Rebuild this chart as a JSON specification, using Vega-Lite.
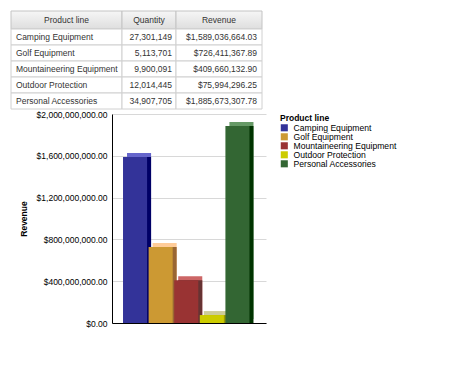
{
  "$schema": "https://vega.github.io/schema/vega-lite/v6.json",
  "background": "white",
  "padding": {"left": 10, "top": 10, "right": 5, "bottom": 5},
  "config": {"view": {"stroke": null}, "font": "Liberation Sans"},
  "datasets": {
    "sales": [
      {"product_line": "Camping Equipment", "quantity": 27301149, "revenue": 1589036664.03},
      {"product_line": "Golf Equipment", "quantity": 5113701, "revenue": 726411367.89},
      {"product_line": "Mountaineering Equipment", "quantity": 9900091, "revenue": 409660132.90},
      {"product_line": "Outdoor Protection", "quantity": 12014445, "revenue": 75994296.25},
      {"product_line": "Personal Accessories", "quantity": 34907705, "revenue": 1885673307.78}
    ]
  },
  "spacing": 0,
  "vconcat": [
    {
      "columns": 3,
      "spacing": 0,
      "bounds": "flush",
      "concat": [
        {
          "width": 111, "height": 18,
          "data": {"values": [{"header": "Product line"}]},
          "encoding": {
            "x": {"field": "header", "type": "nominal", "scale": {"paddingInner": 0, "paddingOuter": 0}, "axis": null},
            "y": {"field": "header", "type": "nominal", "scale": {"paddingInner": 0, "paddingOuter": 0}, "axis": null}
          },
          "layer": [
            {"mark": {"type": "rect", "stroke": "#c4c4c4", "strokeWidth": 1, "fill": {"gradient": "linear", "x1": 0, "y1": 0, "x2": 0, "y2": 1, "stops": [{"offset": 0, "color": "#f6f6f6"}, {"offset": 1, "color": "#dedede"}]}}},
            {"mark": {"type": "text", "fontSize": 8.5, "color": "#333333"}, "encoding": {"text": {"field": "header"}}}
          ]
        },
        {
          "width": 54, "height": 18,
          "data": {"values": [{"header": "Quantity"}]},
          "encoding": {
            "x": {"field": "header", "type": "nominal", "scale": {"paddingInner": 0, "paddingOuter": 0}, "axis": null},
            "y": {"field": "header", "type": "nominal", "scale": {"paddingInner": 0, "paddingOuter": 0}, "axis": null}
          },
          "layer": [
            {"mark": {"type": "rect", "stroke": "#c4c4c4", "strokeWidth": 1, "fill": {"gradient": "linear", "x1": 0, "y1": 0, "x2": 0, "y2": 1, "stops": [{"offset": 0, "color": "#f6f6f6"}, {"offset": 1, "color": "#dedede"}]}}},
            {"mark": {"type": "text", "fontSize": 8.5, "color": "#333333"}, "encoding": {"text": {"field": "header"}}}
          ]
        },
        {
          "width": 86, "height": 18,
          "data": {"values": [{"header": "Revenue"}]},
          "encoding": {
            "x": {"field": "header", "type": "nominal", "scale": {"paddingInner": 0, "paddingOuter": 0}, "axis": null},
            "y": {"field": "header", "type": "nominal", "scale": {"paddingInner": 0, "paddingOuter": 0}, "axis": null}
          },
          "layer": [
            {"mark": {"type": "rect", "stroke": "#c4c4c4", "strokeWidth": 1, "fill": {"gradient": "linear", "x1": 0, "y1": 0, "x2": 0, "y2": 1, "stops": [{"offset": 0, "color": "#f6f6f6"}, {"offset": 1, "color": "#dedede"}]}}},
            {"mark": {"type": "text", "fontSize": 8.5, "color": "#333333"}, "encoding": {"text": {"field": "header"}}}
          ]
        },
        {
          "width": 111, "height": 80,
          "data": {"name": "sales"},
          "encoding": {
            "x": {"datum": "Product line", "type": "nominal", "scale": {"paddingInner": 0, "paddingOuter": 0}, "axis": null},
            "y": {"field": "product_line", "type": "nominal", "sort": null, "scale": {"paddingInner": 0, "paddingOuter": 0}, "axis": null}
          },
          "layer": [
            {"mark": {"type": "rect", "fill": "white", "stroke": "#d0d0d0", "strokeWidth": 1}},
            {"mark": {"type": "text", "align": "left", "dx": 5, "fontSize": 8.5, "color": "#333333"}, "encoding": {"x": {"datum": "Product line", "type": "nominal", "bandPosition": 0}, "text": {"field": "product_line"}}}
          ]
        },
        {
          "width": 54, "height": 80,
          "data": {"name": "sales"},
          "encoding": {
            "x": {"datum": "Quantity", "type": "nominal", "scale": {"paddingInner": 0, "paddingOuter": 0}, "axis": null},
            "y": {"field": "product_line", "type": "nominal", "sort": null, "scale": {"paddingInner": 0, "paddingOuter": 0}, "axis": null}
          },
          "layer": [
            {"mark": {"type": "rect", "fill": "white", "stroke": "#d0d0d0", "strokeWidth": 1}},
            {"mark": {"type": "text", "align": "right", "dx": -4, "fontSize": 8.5, "color": "#333333"}, "encoding": {"x": {"datum": "Quantity", "type": "nominal", "bandPosition": 1}, "text": {"field": "quantity", "type": "quantitative", "format": ","}}}
          ]
        },
        {
          "width": 86, "height": 80,
          "data": {"name": "sales"},
          "encoding": {
            "x": {"datum": "Revenue", "type": "nominal", "scale": {"paddingInner": 0, "paddingOuter": 0}, "axis": null},
            "y": {"field": "product_line", "type": "nominal", "sort": null, "scale": {"paddingInner": 0, "paddingOuter": 0}, "axis": null}
          },
          "layer": [
            {"mark": {"type": "rect", "fill": "white", "stroke": "#d0d0d0", "strokeWidth": 1}},
            {"mark": {"type": "text", "align": "right", "dx": -5, "fontSize": 8.5, "color": "#333333"}, "encoding": {"x": {"datum": "Revenue", "type": "nominal", "bandPosition": 1}, "text": {"field": "revenue", "type": "quantitative", "format": "$,.2f"}}}
          ]
        }
      ]
    },
    {
      "spacing": 0,
      "hconcat": [
        {
          "width": 8, "height": 1,
          "data": {"values": []},
          "mark": "point"
        },
        {
          "width": 154,
          "height": 209,
          "data": {"name": "sales"},
          "encoding": {
            "x": {"field": "product_line", "type": "nominal", "sort": null, "scale": {"paddingInner": 0.06, "paddingOuter": 0.538, "align": 0.4}, "axis": {"title": null, "labels": false, "ticks": false, "domainColor": "#000000", "grid": false}},
            "y": {"field": "revenue", "type": "quantitative", "scale": {"domain": [0, 2000000000]}, "axis": {"title": "Revenue", "titleFontSize": 8.5, "titleFontWeight": "bold", "titleColor": "#000000", "titlePadding": 8, "format": "$,.2f", "values": [0, 400000000, 800000000, 1200000000, 1600000000, 2000000000], "labelFontSize": 8.5, "labelColor": "#000000", "labelPadding": 5, "ticks": false, "domainColor": "#000000", "grid": true, "gridColor": "#d8d8d8"}}
          },
          "layer": [
            {"mark": {"type": "bar", "xOffset": 4, "yOffset": -4}, "encoding": {"color": {"field": "product_line", "type": "nominal", "scale": {"range": ["#6666cc", "#ffcc99", "#cc6666", "#cccc99", "#669966"]}, "legend": null}}},
            {"mark": {"type": "bar", "xOffset": 4}, "encoding": {"color": {"field": "product_line", "type": "nominal", "scale": {"range": ["#000066", "#996633", "#663333", "#999900", "#003300"]}, "legend": null}}},
            {"mark": {"type": "bar"}, "encoding": {"color": {"field": "product_line", "type": "nominal", "scale": {"range": ["#333399", "#cc9933", "#993333", "#cccc00", "#336633"]}, "legend": {"title": "Product line", "titleFontSize": 8.5, "titleFontWeight": "bold", "titleColor": "#000000", "titleBaseline": "top", "labelFontSize": 8.6, "labelColor": "#000000", "symbolType": "square", "symbolSize": 50, "symbolStrokeWidth": 0, "rowPadding": 0, "offset": 14, "padding": 0, "titlePadding": 1, "labelOffset": 5}}}}
          ],
          "resolve": {"scale": {"color": "independent"}}
        }
      ]
    }
  ]
}
